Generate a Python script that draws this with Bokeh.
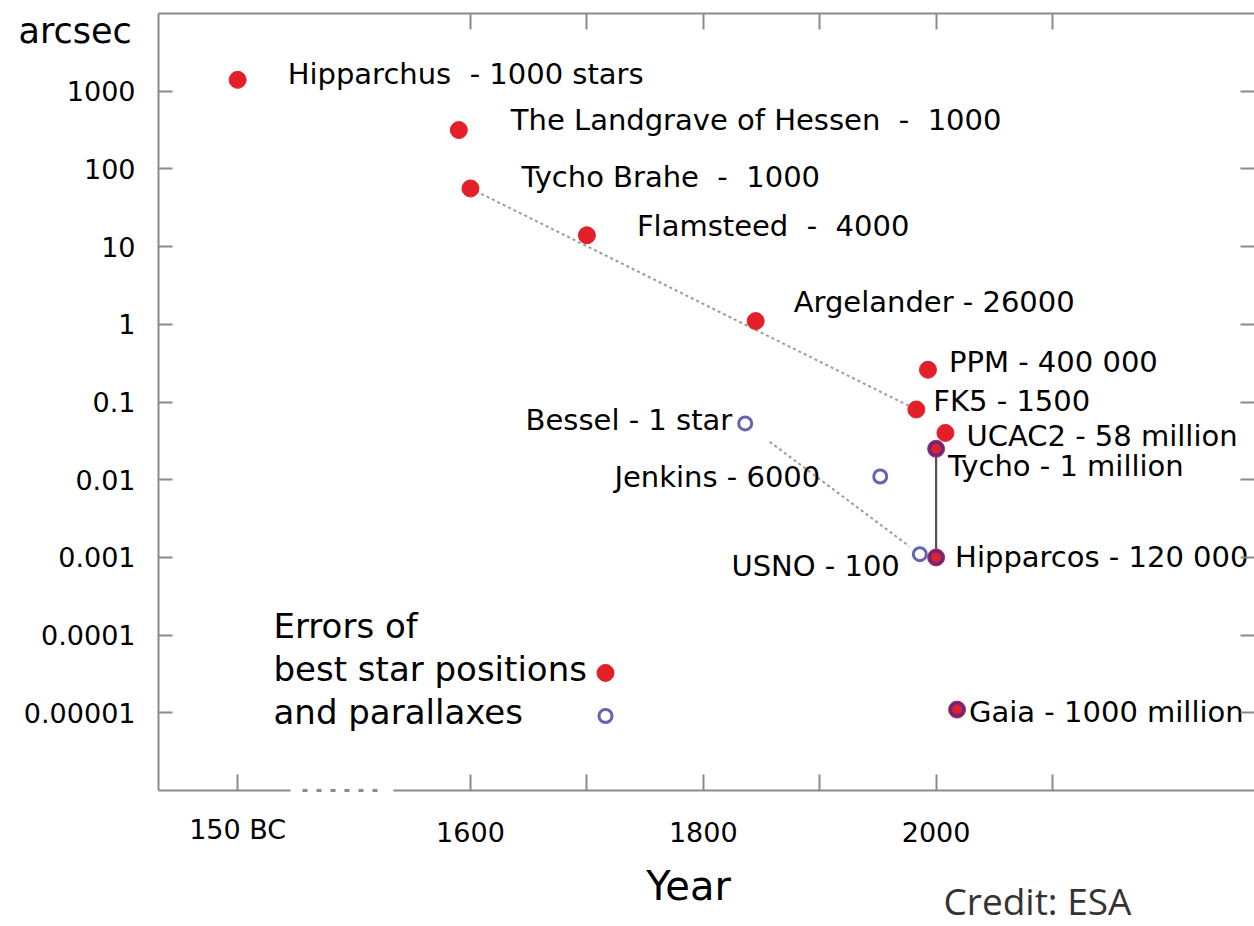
import math
from bokeh.plotting import figure
from bokeh.models import Range1d, LinearAxis, LogAxis, FixedTicker, Label, ColumnDataSource
from bokeh.embed import file_html
from bokeh.resources import INLINE
from bokeh.core.properties import value

# ---------------- data ----------------
NB = "\u00a0"
# best star positions (red dots)
pos_labels = ["Hipparchus " + NB + "- 1000 stars", "The Landgrave of Hessen " + NB + "- " + NB + "1000",
              "Tycho Brahe " + NB + "- " + NB + "1000", "Flamsteed " + NB + "- " + NB + "4000",
              "Argelander - 26000",
              "PPM - 400 000", "FK5 - 1500", "UCAC2 - 58 million",
              "Tycho - 1 million", "Hipparcos - 120 000", "Gaia - 1000 million"]
pos_years = [-150, 1590, 1600, 1700, 1845, 1993, 1983, 2008, 2000, 2000, 2018]
pos_errors = [1400, 316, 56, 14, 1.1, 0.26, 0.08, 0.04, 0.025, 0.001, 0.000011]

# parallaxes (open circles)
par_labels = ["Bessel - 1 star", "Jenkins - 6000", "USNO - 100", "", "", ""]
par_years = [1836, 1952, 1986, 2000, 2000, 2018]
par_errors = [0.053, 0.011, 0.0011, 0.025, 0.001, 0.000011]

y_tick_values = [1000, 100, 10, 1, 0.1, 0.01, 0.001, 0.0001, 0.00001]
y_tick_labels = ["1000", "100", "10", "1", "0.1", "0.01", "0.001", "0.0001", "0.00001"]
bc_tick_years = [-150]
bc_tick_labels = ["150 BC"]
x_tick_years = [1600, 1700, 1800, 1900, 2000, 2100]
x_tick_labels = ["1600", "", "1800", "", "2000", ""]
top_tick_years = [1600, 1700, 1800, 1900, 2000, 2100]

# ---------------- layout / style ----------------
W, H = 1254, 926
ANCIENT_SHIFT = 1550          # broken axis: 150 BC drawn left of the break
def axis_x(year):
    return year + ANCIENT_SHIFT if year < 1000 else year

# plot box (data limits) and its place on the canvas
X_LO, X_HI = 1332, 2273.5
Y_LO, Y_HI = 1e-6, 1e4
BOX_LEFT_PX, BOX_TOP_PX, BOX_BOTTOM_PX = 158, 13, 790
px_per_year = (W - BOX_LEFT_PX) / (X_HI - X_LO)
px_per_dec = (BOX_BOTTOM_PX - BOX_TOP_PX) / (math.log10(Y_HI) - math.log10(Y_LO))
x_range = Range1d(X_LO - BOX_LEFT_PX / px_per_year, X_HI)
y_range = Range1d(10 ** (math.log10(Y_LO) - (H - BOX_BOTTOM_PX) / px_per_dec),
                  10 ** (math.log10(Y_HI) + BOX_TOP_PX / px_per_dec))

BREAK_SOLID_END, BREAK_DOT_START, BREAK_DOT_END, BREAK_SOLID_START = 1445, 1456, 1524, 1534

pos_dx = [50, 52, 51, 50, 38, 21, 17, 21, 12, 19, 12]
pos_dy = [-6, -10, -11, -9, -19, -8, -9, 3, 17, 0, 2]
par_dx = [-13, -60, -20, 0, 0, 0]
par_dy = [-3, 1, 12, 0, 0, 0]
par_ring_colors = ["#6464b0", "#6464b0", "#6464b0", "#5a2c8c", "#5a2c8c", "#5a2c8c"]

RED = "#e3202a"
AXIS = "#8a8a8a"
INK = "#000000"
FONT = "DejaVu Sans"
BASELINE_FIX = 0.37   # Label baseline correction, in em

p = figure(width=W, height=H, output_backend="svg", toolbar_location=None,
           y_axis_type="log", x_axis_type=None, y_axis_location=None,
           x_range=x_range, y_range=y_range,
           min_border=0, min_border_left=0, min_border_right=0,
           min_border_top=0, min_border_bottom=0)
p.outline_line_color = None
p.background_fill_color = "white"
p.border_fill_color = "white"
for g in p.grid:
    g.visible = False

def make_axis(cls, ticks, labels, location, bounds, tick_in=14):
    ax = cls(ticker=FixedTicker(ticks=ticks, minor_ticks=[]), fixed_location=location, bounds=bounds)
    ax.axis_line_color = AXIS
    ax.axis_line_width = 2
    ax.major_tick_line_color = AXIS
    ax.major_tick_line_width = 2
    ax.major_tick_in = tick_in
    ax.major_tick_out = 0
    ax.minor_tick_line_color = None
    ax.major_label_text_font = FONT
    ax.major_label_text_font_size = "27px"
    ax.major_label_text_color = INK
    if labels is None:
        labels = [""] * len(ticks)
        ax.major_label_standoff = 0
    ax.major_label_overrides = {t: s for t, s in zip(ticks, labels)}
    return ax

# left axis
yl = make_axis(LogAxis, y_tick_values, y_tick_labels, X_LO, (Y_LO, Y_HI))
yl.major_label_standoff = 23
p.add_layout(yl, "left")

# right axis (ticks only)
yr = make_axis(LogAxis, y_tick_values, None, X_HI, (Y_LO, Y_HI))
yr.axis_line_color = None
p.add_layout(yr, "right")

# bottom axis, broken between 150 BC and 1600
bc_ticks = [axis_x(y) for y in bc_tick_years]
xb1 = make_axis(LinearAxis, bc_ticks, bc_tick_labels, Y_LO, (X_LO, BREAK_SOLID_END), tick_in=16)
xb1.major_label_standoff = 23
p.add_layout(xb1, "below")
xb2 = make_axis(LinearAxis, x_tick_years, x_tick_labels, Y_LO, (BREAK_SOLID_START, X_HI), tick_in=16)
xb2.major_label_standoff = 31
p.add_layout(xb2, "below")
xb3 = make_axis(LinearAxis, [], [], Y_LO, (BREAK_DOT_START, BREAK_DOT_END))
xb3.axis_line_width = 3
xb3.axis_line_dash = "5 9"
p.add_layout(xb3, "below")

# top axis
xt = make_axis(LinearAxis, top_tick_years, None, Y_HI, (X_LO, X_HI), tick_in=16)
p.add_layout(xt, "above")

# trend lines
i_tb, i_fk = 2, 6
p.line([pos_years[i_tb], pos_years[i_fk]], [pos_errors[i_tb], pos_errors[i_fk]],
       line_color="#9a9a9a", line_width=2, line_dash="3 3")
i_bs, i_us = 0, 2
t0, t1 = 0.14, 0.94
lx0, lx1 = par_years[i_bs], par_years[i_us]
ly0, ly1 = math.log10(par_errors[i_bs]), math.log10(par_errors[i_us])
p.line([lx0 + t * (lx1 - lx0) for t in (t0, t1)],
       [10 ** (ly0 + t * (ly1 - ly0)) for t in (t0, t1)],
       line_color="#9a9a9a", line_width=2, line_dash="3 3")
# Tycho -> Hipparcos
i_ty, i_hp = 8, 9
p.line([pos_years[i_ty], pos_years[i_hp]], [pos_errors[i_ty], pos_errors[i_hp]],
       line_color="#555555", line_width=2.2)

# points
pos_src = ColumnDataSource(dict(x=[axis_x(y) for y in pos_years], y=pos_errors,
                                label=pos_labels, dx=pos_dx, dy=pos_dy))
par_src = ColumnDataSource(dict(x=[axis_x(y) for y in par_years], y=par_errors,
                                label=par_labels, dx=par_dx, dy=par_dy, rc=par_ring_colors))
p.scatter("x", "y", source=pos_src, size=17, fill_color=RED, line_color=RED, line_width=1)
p.scatter("x", "y", source=par_src, size=13, fill_color=None, line_color="rc", line_width=3)

p.text("x", "y", text="label", source=pos_src, x_offset="dx", y_offset="dy",
       text_font=value(FONT), text_font_size=value("29px"), text_color=INK,
       text_align="left", text_baseline="middle")
p.text("x", "y", text="label", source=par_src, x_offset="dx", y_offset="dy",
       text_font=value(FONT), text_font_size=value("29px"), text_color=INK,
       text_align="right", text_baseline="middle")

def canvas_label(text, x_px, baseline_px, size, font=FONT, color=INK, align="left"):
    # x_px / baseline_px measured from the canvas' top-left corner
    return Label(x=x_px, y=H - baseline_px + BASELINE_FIX * size,
                 x_units="screen", y_units="screen", text=text,
                 text_font=font, text_font_size=f"{size}px", text_color=color,
                 text_align=align, text_baseline="alphabetic")

# legend (custom, as in the original)
legend_lines = ["Errors of", "best star positions", "and parallaxes"]
legend_key_x = 1716
legend_key_y = [3.26e-5, 9.1e-6]
for i, s in enumerate(legend_lines):
    p.add_layout(canvas_label(s, 273, 638 + i * 43, 34))
p.scatter([legend_key_x], [legend_key_y[0]], size=17, fill_color=RED, line_color=RED)
p.scatter([legend_key_x], [legend_key_y[1]], size=13, fill_color=None, line_color="#6464b0", line_width=3)

# axis captions and credit
p.add_layout(canvas_label("arcsec", 18, 43, 35))
p.add_layout(canvas_label("Year", 688, 900, 40, align="center"))
p.add_layout(canvas_label("Credit: ESA", 943, 914, 37, font="Open Sans", color="#333333"))

open("out.html", "w").write(file_html(p, INLINE))
